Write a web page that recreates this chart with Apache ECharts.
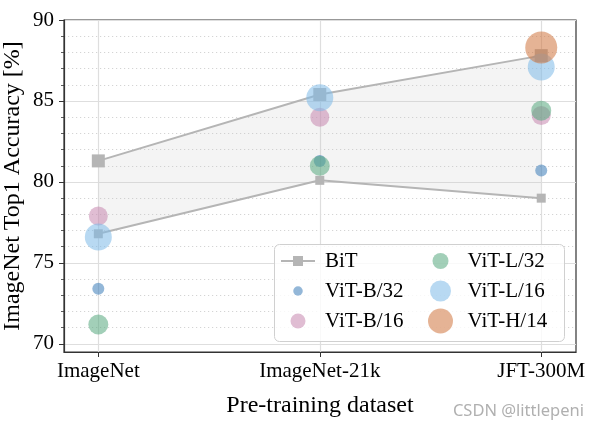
<!DOCTYPE html>
<html><head><meta charset="utf-8">
<script src="https://cdn.jsdelivr.net/npm/echarts@6/dist/echarts.min.js"></script>
<style>html,body{margin:0;padding:0;background:#fff}#c{width:599px;height:428px}</style>
</head><body><div id="c"></div>
<script>
const categories = ['ImageNet', 'ImageNet-21k', 'JFT-300M'];
const bitUpper = [81.3, 85.4, 87.8];
const bitLower = [76.8, 80.1, 79.0];
const vitB32 = [73.4, 81.3, 80.7];
const vitB16 = [77.9, 84.0, 84.1];
const vitL32 = [71.2, 81.0, 84.4];
const vitL16 = [76.6, 85.2, 87.1];
const vitH14 = [null, null, 88.3];
const yMajorTicks = [70, 75, 80, 85, 90];
const yMinorTicks = [71, 72, 73, 74, 76, 77, 78, 79, 81, 82, 83, 84, 86, 87, 88, 89];
const xTicks = [0, 1, 2];

const SERIF = '"Liberation Serif", "DejaVu Serif", serif';
const pts = arr => arr.map((v, i) => [i, v]).filter(p => p[1] != null);

function circleIcon(d) {
  const b = 25, c = b / 2, r = d / 2;
  return `path://M0 0M${b} ${b}M${c - r} ${c}A${r} ${r} 0 1 0 ${c + r} ${c}A${r} ${r} 0 1 0 ${c - r} ${c}Z`;
}
const bitIcon = 'path://M0 0M34 25M0 11.5H34V13.5H0Z M12 7.5H22V17.5H12Z';

const col = {
  b32: 'rgba(63,126,186,0.7)',
  b16: 'rgba(199,138,176,0.7)',
  l32: 'rgba(89,169,128,0.7)',
  l16: 'rgba(128,187,231,0.7)',
  h14: 'rgba(208,119,66,0.7)'
};

const gridLines = [];
yMajorTicks.forEach(v => gridLines.push({ yAxis: v, lineStyle: { color: '#dedede', width: 1.2, type: 'solid' } }));
yMinorTicks.forEach(v => gridLines.push({ yAxis: v, lineStyle: { color: '#d4d4d4', width: 1, type: [1.2, 2.8] } }));
xTicks.forEach(v => gridLines.push({ xAxis: v, lineStyle: { color: '#dedede', width: 1.2, type: 'solid' } }));

function scatter(name, arr, size, color) {
  return {
    type: 'scatter', name, z: 3, data: pts(arr), symbolSize: size,
    itemStyle: { color: color }
  };
}

const legendBase = {
  orient: 'vertical', top: 248.5, padding: 0, itemGap: 5, itemWidth: 34, itemHeight: 25,
  selectedMode: false, symbolKeepAspect: true, z: 5,
  textStyle: { fontFamily: SERIF, fontSize: 21, color: '#000', padding: [0, 0, 0, 5] }
};

const chart = echarts.init(document.getElementById('c'), null, { renderer: 'canvas' });
chart.setOption({
  animation: false,
  backgroundColor: '#fff',
  textStyle: { fontFamily: SERIF },
  grid: { left: 64, right: 23, top: 20, bottom: 76, show: true, borderColor: '#333', borderWidth: 1.2, containLabel: false, outerBoundsMode: 'none' },
  xAxis: {
    type: 'value', min: -0.155, max: 2.157,
    name: 'Pre-training dataset', nameLocation: 'middle', nameGap: 42, nameMoveOverlap: false,
    nameTextStyle: { fontFamily: SERIF, fontSize: 24, color: '#000' },
    axisLine: { show: true, onZero: false, lineStyle: { color: '#333', width: 1.2 } },
    axisTick: { show: true, customValues: xTicks, length: 5, lineStyle: { color: '#333', width: 1 } },
    axisLabel: { customValues: xTicks, formatter: v => categories[Math.round(v)], fontFamily: SERIF, fontSize: 21, color: '#000', margin: 9 },
    splitLine: { show: false }
  },
  yAxis: [{
    type: 'value', min: 69.5, max: 90,
    name: 'ImageNet Top1 Accuracy [%]', nameLocation: 'middle', nameGap: 39, nameMoveOverlap: false,
    nameTextStyle: { fontFamily: SERIF, fontSize: 24, color: '#000' },
    axisLine: { show: true, onZero: false, lineStyle: { color: '#333', width: 1.2 } },
    axisTick: { show: true, customValues: yMajorTicks, length: 5, lineStyle: { color: '#333', width: 1 } },
    axisLabel: { customValues: yMajorTicks, fontFamily: SERIF, fontSize: 21, color: '#000', margin: 10 },
    splitLine: { show: false }
  }, {
    type: 'value', min: 69.5, max: 90, position: 'left',
    axisLine: { show: false, onZero: false },
    axisTick: { show: true, customValues: yMinorTicks, length: 3, lineStyle: { color: '#333', width: 0.8 } },
    axisLabel: { show: false },
    splitLine: { show: false }
  }],
  legend: [
    Object.assign({}, legendBase, {
      left: 281,
      data: [
        { name: 'BiT', icon: bitIcon, itemStyle: { color: '#b5b5b5' } },
        { name: 'ViT-B/32', icon: circleIcon(9.5) },
        { name: 'ViT-B/16', icon: circleIcon(15) }
      ]
    }),
    Object.assign({}, legendBase, {
      left: 428,
      data: [
        { name: 'ViT-L/32', icon: circleIcon(16) },
        { name: 'ViT-L/16', icon: circleIcon(21) },
        { name: 'ViT-H/14', icon: circleIcon(25) }
      ]
    })
  ],
  graphic: [{
    type: 'rect', left: 274, top: 244, z: 4, silent: true,
    shape: { width: 290, height: 97, r: 5 },
    style: { fill: 'rgba(255,255,255,0.8)', stroke: '#d0d0d0', lineWidth: 1 }
  }, {
    type: 'text', right: 15, bottom: 8, z: 10,
    style: { text: 'CSDN @littlepeni', fill: '#b0b0b0', font: '16.5px "Noto Sans", "DejaVu Sans", sans-serif' }
  }],
  series: [
    {
      type: 'custom', name: 'band', z: 1, silent: true,
      data: categories.map((c, i) => [i, bitLower[i], bitUpper[i]]),
      encode: { x: 0, y: 1 },
      renderItem: (params, api) => {
        if (params.dataIndex !== 0) return;
        const poly = [];
        for (let i = 0; i < categories.length; i++) poly.push(api.coord([i, bitUpper[i]]));
        for (let i = categories.length - 1; i >= 0; i--) poly.push(api.coord([i, bitLower[i]]));
        return { type: 'polygon', shape: { points: poly }, style: { fill: 'rgba(200,200,200,0.2)' } };
      },
      markLine: { silent: true, z: 0, symbol: ['none', 'none'], label: { show: false }, animation: false, data: gridLines }
    },
    {
      type: 'line', name: 'BiT', z: 2, data: pts(bitUpper), symbol: 'rect', symbolSize: 13,
      itemStyle: { color: '#b5b5b5' }, lineStyle: { color: '#b5b5b5', width: 2 }
    },
    {
      type: 'line', name: 'BiT', z: 2, data: pts(bitLower), symbol: 'rect', symbolSize: 9,
      itemStyle: { color: '#b5b5b5' }, lineStyle: { color: '#b5b5b5', width: 2 }
    },
    scatter('ViT-B/32', vitB32, 12, col.b32),
    scatter('ViT-B/16', vitB16, 19, col.b16),
    scatter('ViT-L/32', vitL32, 20, col.l32),
    scatter('ViT-L/16', vitL16, 27, col.l16),
    scatter('ViT-H/14', vitH14, 32, col.h14)
  ]
});
</script>
</body></html>
